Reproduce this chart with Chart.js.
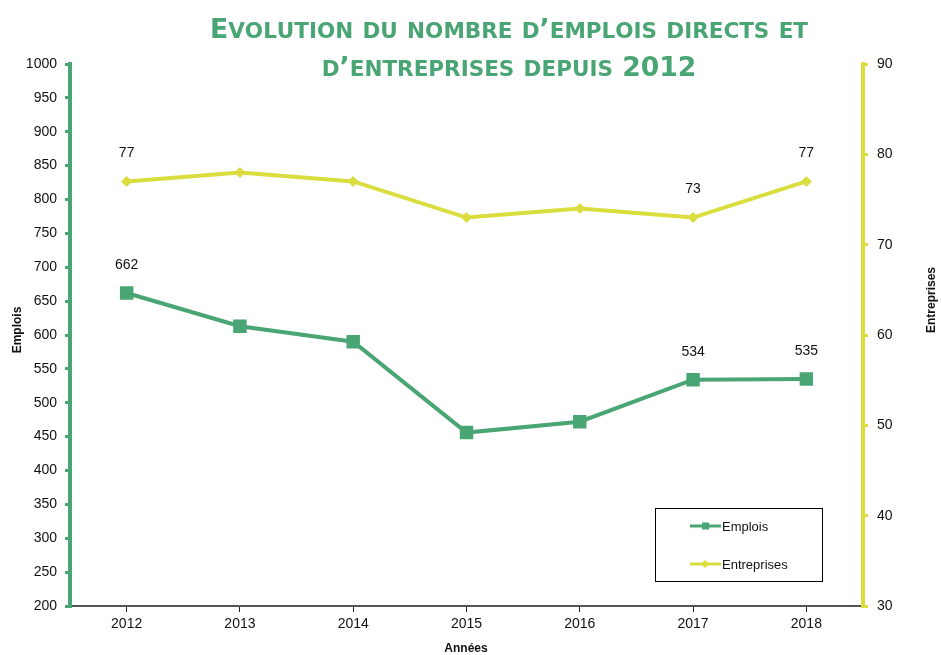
<!DOCTYPE html>
<html>
<head>
<meta charset="utf-8">
<script src="https://cdn.jsdelivr.net/npm/chart.js@4.4.0/dist/chart.umd.min.js"></script>
<style>
  html, body { margin: 0; padding: 0; background: #fff; }
  #wrap { width: 941px; height: 655px; position: relative; }
</style>
</head>
<body>
<div id="wrap"><canvas id="emploisChart"></canvas></div>
<script>
const annees = ['2012', '2013', '2014', '2015', '2016', '2017', '2018'];
const emplois = [662, 613, 590, 456, 472, 534, 535];
const entreprises = [77, 78, 77, 73, 74, 73, 77];
const labeledIdx = [0, 5, 6];
const titleLines = ['Evolution du nombre d\u2019emplois directs et', 'd\u2019entreprises depuis 2012'];

const GREEN = '#4aa574';
const YELLOW = '#d9dd3e';
const FONT = "'Liberation Sans', Arial, sans-serif";

// small caps title, lowercase letters drawn as smaller capitals
const titlePlugin = {
    id: 'smallCapsTitle',
    afterDraw(chart) {
        const ctx = chart.ctx;
        const big = "bold 26px 'DejaVu Sans Condensed', 'DejaVu Sans', sans-serif";
        const small = "bold 21px 'DejaVu Sans Condensed', 'DejaVu Sans', sans-serif";
        const runs = line => line.split('').map(ch => {
            const low = ch !== ch.toUpperCase();
            return { t: ch.toUpperCase(), f: low ? small : big };
        });
        const widthOf = rs => rs.reduce((w, r) => { ctx.font = r.f; return w + ctx.measureText(r.t).width; }, 0);
        ctx.save();
        const first = runs(titleLines[0]);
        const sx = 598 / widthOf(first);
        const baselines = [38, 76];
        titleLines.forEach((line, i) => {
            const rs = runs(line);
            const w = widthOf(rs) * sx;
            let x = 509 - w / 2;
            ctx.fillStyle = GREEN;
            ctx.textBaseline = 'alphabetic';
            rs.forEach(r => {
                ctx.font = r.f;
                ctx.save();
                ctx.translate(x, baselines[i]);
                ctx.scale(sx, 1);
                ctx.fillText(r.t, 0, 0);
                ctx.restore();
                x += ctx.measureText(r.t).width * sx;
            });
        });
        ctx.restore();
    }
};

const extrasPlugin = {
    id: 'extras',
    afterDatasetsDraw(chart) {
        const ctx = chart.ctx;
        ctx.save();
        // data labels
        ctx.font = '14px ' + FONT;
        ctx.fillStyle = '#111';
        ctx.textAlign = 'center';
        ctx.textBaseline = 'middle';
        chart.data.datasets.forEach((ds, di) => {
            const meta = chart.getDatasetMeta(di);
            labeledIdx.forEach(i => {
                const p = meta.data[i];
                ctx.fillText(String(ds.data[i]), p.x, p.y - 28);
            });
        });
        // axis titles
        ctx.font = 'bold 12px ' + FONT;
        ctx.save();
        ctx.translate(18, 330);
        ctx.rotate(-Math.PI / 2);
        ctx.fillText('Emplois', 0, 0);
        ctx.restore();
        ctx.save();
        ctx.translate(932, 300);
        ctx.rotate(-Math.PI / 2);
        ctx.fillText('Entreprises', 0, 0);
        ctx.restore();
        ctx.fillText('Ann\u00e9es', 466, 649);
        // legend box
        ctx.strokeStyle = '#000';
        ctx.lineWidth = 1;
        ctx.strokeRect(655.5, 508.5, 167, 73);
        ctx.textAlign = 'left';
        ctx.font = '13px ' + FONT;
        chart.data.datasets.forEach((ds, di) => {
            const y = di === 0 ? 526 : 564;
            ctx.strokeStyle = ds.borderColor;
            ctx.lineWidth = 3;
            ctx.beginPath();
            ctx.moveTo(690, y);
            ctx.lineTo(721, y);
            ctx.stroke();
            ctx.fillStyle = ds.borderColor;
            ctx.beginPath();
            if (di === 0) {
                ctx.rect(702, y - 3.5, 7, 7);
            } else {
                ctx.moveTo(705, y - 4); ctx.lineTo(709, y); ctx.lineTo(705, y + 4); ctx.lineTo(701, y);
                ctx.closePath();
            }
            ctx.fill();
            ctx.fillStyle = '#111';
            ctx.fillText(ds.label, 722, y + 1);
        });
        ctx.restore();
    }
};

new Chart(document.getElementById('emploisChart'), {
    type: 'line',
    data: {
        labels: annees,
        datasets: [
            {
                label: 'Emplois', data: emplois, yAxisID: 'y',
                borderColor: GREEN, backgroundColor: GREEN, borderWidth: 4,
                pointStyle: 'rect', pointRadius: 9.5, pointBorderWidth: 0, tension: 0
            },
            {
                label: 'Entreprises', data: entreprises, yAxisID: 'y1',
                borderColor: YELLOW, backgroundColor: YELLOW, borderWidth: 4,
                pointStyle: 'rectRot', pointRadius: 5.5, pointBorderWidth: 0, tension: 0
            }
        ]
    },
    options: {
        responsive: true,
        maintainAspectRatio: false,
        animation: false,
        layout: { padding: { top: 64, left: 0, right: 0, bottom: 0 } },
        plugins: { legend: { display: false }, tooltip: { enabled: false }, title: { display: false } },
        scales: {
            x: {
                offset: true,
                afterFit: s => { s.height = 49; },
                grid: { drawOnChartArea: false, tickLength: 6, color: '#222', lineWidth: 1 },
                border: { color: '#555', width: 2 },
                ticks: { color: '#111', font: { family: FONT, size: 14 }, padding: 4 }
            },
            y: {
                position: 'left', min: 200, max: 1000,
                afterFit: s => { s.width = 70; },
                grid: { drawOnChartArea: false, tickLength: 5, color: GREEN, lineWidth: 3 },
                border: { color: GREEN, width: 4 },
                ticks: { stepSize: 50, color: '#111', font: { family: FONT, size: 14 }, padding: 8,
                         callback: v => String(v) }
            },
            y1: {
                position: 'right', min: 30, max: 90,
                afterFit: s => { s.width = 78; },
                grid: { drawOnChartArea: false, tickLength: 5, color: YELLOW, lineWidth: 3 },
                border: { color: YELLOW, width: 4 },
                ticks: { stepSize: 10, color: '#111', font: { family: FONT, size: 14 }, padding: 9,
                         callback: v => String(v) }
            }
        }
    },
    plugins: [titlePlugin, extrasPlugin]
});
</script>
</body>
</html>
